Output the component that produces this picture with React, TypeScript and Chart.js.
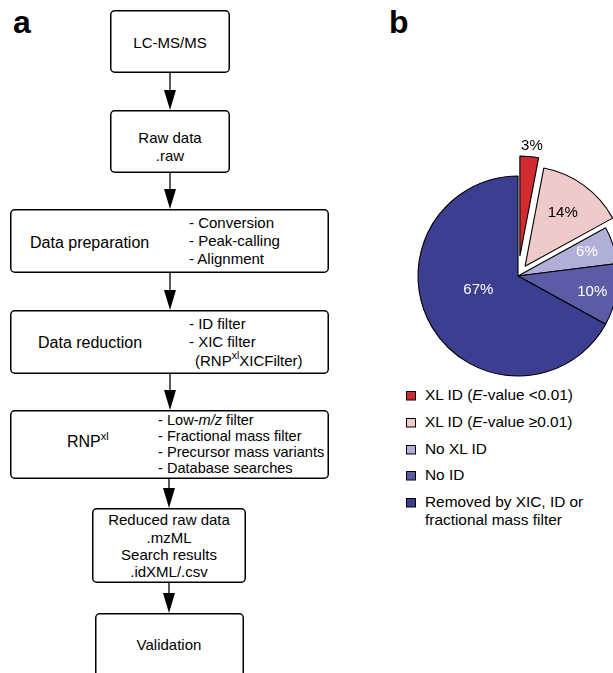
import React, { useEffect, useRef } from 'react';
import { Chart, registerables } from 'chart.js';

Chart.register(...registerables);

// ---- data ----
const categories = [
  'XL ID (E-value <0.01)',
  'XL ID (E-value ≥0.01)',
  'No XL ID',
  'No ID',
  'Removed by XIC, ID or fractional mass filter',
];
const percentages = [3, 14, 6, 10, 67];
const pctLabels = percentages.map((p) => p + '%');

// ---- styles ----
const sliceColors = ['#D12A2F', '#EECACA', '#AFAFD7', '#5B5CA5', '#3C3E92'];
const labelColors = ['#000000', '#000000', '#ffffff', '#ffffff', '#ffffff'];
const explodeOffsets = [20, 12, 0, 0, 0];
const labelDistance = [131, 77, 73, 76, 42];
const labelAngleShiftDeg = [0.7, -0.5, -1.2, 1.4, 11.3];

const FONT = '"Liberation Sans", Arial, Helvetica, sans-serif';

const explodePlugin = {
  id: 'explodeSlices',
  beforeDatasetDraw(chart: any, args: any) {
    const meta = args.meta;
    const ca = chart.chartArea;
    const cx = (ca.left + ca.right) / 2;
    const cy = (ca.top + ca.bottom) / 2;
    meta.data.forEach((arc: any, i: number) => {
      const mid = (arc.startAngle + arc.endAngle) / 2;
      const off = explodeOffsets[i] || 0;
      arc.x = cx + Math.cos(mid) * off;
      arc.y = cy + Math.sin(mid) * off;
    });
  },
};

const labelPlugin = {
  id: 'sliceLabels',
  afterDatasetsDraw(chart: any) {
    const ctx = chart.ctx;
    const meta = chart.getDatasetMeta(0);
    const ca = chart.chartArea;
    const cx = (ca.left + ca.right) / 2;
    const cy = (ca.top + ca.bottom) / 2;
    ctx.save();
    ctx.font = '15px ' + FONT;
    ctx.textAlign = 'center';
    ctx.textBaseline = 'middle';
    meta.data.forEach((arc: any, i: number) => {
      const mid = (arc.startAngle + arc.endAngle) / 2 + (labelAngleShiftDeg[i] * Math.PI) / 180;
      const d = labelDistance[i];
      ctx.fillStyle = labelColors[i];
      ctx.fillText(pctLabels[i], cx + Math.cos(mid) * d, cy + Math.sin(mid) * d);
    });
    ctx.restore();
  },
};

function PieChart() {
  const ref = useRef<HTMLCanvasElement | null>(null);
  useEffect(() => {
    if (!ref.current) return;
    const chart = new Chart(ref.current, {
      type: 'pie',
      data: {
        labels: categories,
        datasets: [
          {
            data: percentages,
            backgroundColor: sliceColors,
            borderColor: '#000000',
            borderWidth: 1.1,
            radius: 100,
          } as any,
        ],
      },
      options: {
        responsive: false,
        animation: false,
        events: [],
        layout: { padding: 0 },
        plugins: {
          legend: { display: false },
          tooltip: { enabled: false },
        },
      },
      plugins: [explodePlugin, labelPlugin],
    });
    return () => chart.destroy();
  }, []);
  return (
    <canvas
      ref={ref}
      width={300}
      height={300}
      style={{ position: 'absolute', left: 368, top: 126, width: 300, height: 300 }}
    />
  );
}

type Box = { x: number; y: number; w: number; h: number };
const boxes: Box[] = [
  { x: 110, y: 10, w: 120, h: 63 },
  { x: 110, y: 110, w: 120, h: 63 },
  { x: 10, y: 209, w: 319, h: 64 },
  { x: 10, y: 310, w: 319, h: 64 },
  { x: 10, y: 410, w: 319, h: 69 },
  { x: 92, y: 508, w: 154, h: 75 },
  { x: 95, y: 613, w: 149, h: 90 },
];
const arrows = [
  { x: 170, y1: 73, y2: 110 },
  { x: 170, y1: 173, y2: 209 },
  { x: 170, y1: 273, y2: 310 },
  { x: 170, y1: 374, y2: 410 },
  { x: 169, y1: 479, y2: 508 },
  { x: 169, y1: 583, y2: 613 },
];
const legendSquareTops = [391, 418, 445, 471, 498];
const legendBaselines = [400, 427, 454, 480, 507];

function Flow() {
  const t = { fontFamily: FONT, fontSize: 15, fill: '#000' } as any;
  const big = { fontSize: 16 } as any;
  const sup = { fontSize: 10.5 } as any;
  return (
    <svg
      width={613}
      height={673}
      style={{ position: 'absolute', left: 0, top: 0 }}
      xmlns="http://www.w3.org/2000/svg"
    >
      <text x={13} y={33} style={{ fontFamily: FONT, fontSize: 32, fontWeight: 'bold' }}>a</text>
      <text x={389} y={33} style={{ fontFamily: FONT, fontSize: 32, fontWeight: 'bold' }}>b</text>
      {boxes.map((b, i) => (
        <rect key={i} x={b.x + 0.75} y={b.y + 0.75} width={b.w - 1.5} height={b.h - 1.5} rx={4} ry={4}
          fill="#fff" stroke="#000" strokeWidth={1.5} />
      ))}
      {arrows.map((a, i) => (
        <g key={i}>
          <line x1={a.x} y1={a.y1} x2={a.x} y2={a.y2 - 18} stroke="#000" strokeWidth={1.3} />
          <polygon points={`${a.x - 6},${a.y2 - 20} ${a.x + 6},${a.y2 - 20} ${a.x},${a.y2}`} fill="#000" />
        </g>
      ))}
      <g style={t}>
        <text x={170} y={48} textAnchor="middle">LC-MS/MS</text>
        <text x={170} y={143} textAnchor="middle">Raw data</text>
        <text x={170} y={161} textAnchor="middle">.raw</text>

        <text x={30} y={248} style={big}>Data preparation</text>
        <text x={189} y={228}>- Conversion</text>
        <text x={189} y={246}>- Peak-calling</text>
        <text x={189} y={264}>- Alignment</text>

        <text x={38} y={348} style={big}>Data reduction</text>
        <text x={189} y={329}>- ID filter</text>
        <text x={189} y={347}>- XIC filter</text>
        <text x={195} y={366}>(RNP<tspan dy={-7} style={sup}>xl</tspan><tspan dy={7}>XICFilter)</tspan></text>

        <text x={67} y={447} style={big}>RNP<tspan dy={-7} style={{ fontSize: 11 }}>xl</tspan></text>
        <g style={{ fontSize: 14.6 }}>
          <text x={158} y={425}>- Low-<tspan fontStyle="italic">m/z</tspan> filter</text>
          <text x={158} y={441}>- Fractional mass filter</text>
          <text x={158} y={457}>- Precursor mass variants</text>
          <text x={158} y={473}>- Database searches</text>
        </g>

        <text x={169} y={525} textAnchor="middle">Reduced raw data</text>
        <text x={169} y={543} textAnchor="middle">.mzML</text>
        <text x={169} y={560} textAnchor="middle">Search results</text>
        <text x={169} y={577} textAnchor="middle">.idXML/.csv</text>

        <text x={169} y={650} textAnchor="middle">Validation</text>
      </g>
      {/* legend */}
      {categories.map((c, i) => (
        <rect key={'sq' + i} x={406.5} y={legendSquareTops[i] + 0.5} width={9} height={8.5}
          fill={sliceColors[i]} stroke="#000" strokeWidth={1} />
      ))}
      <g style={{ ...t, fontSize: 15.4 }}>
        <text x={425} y={legendBaselines[0]}>XL ID (<tspan fontStyle="italic">E</tspan>-value {'<'}0.01)</text>
        <text x={425} y={legendBaselines[1]}>XL ID (<tspan fontStyle="italic">E</tspan>-value ≥0.01)</text>
        <text x={425} y={legendBaselines[2]}>{categories[2]}</text>
        <text x={425} y={legendBaselines[3]}>{categories[3]}</text>
        <text x={425} y={legendBaselines[4]}>Removed by XIC, ID or</text>
        <text x={425} y={legendBaselines[4] + 18}>fractional mass filter</text>
      </g>
    </svg>
  );
}

export default function App() {
  return (
    <div style={{ position: 'absolute', left: 0, top: 0, width: 613, height: 673, overflow: 'hidden', background: '#fff' }}>
      <Flow />
      <PieChart />
    </div>
  );
}
